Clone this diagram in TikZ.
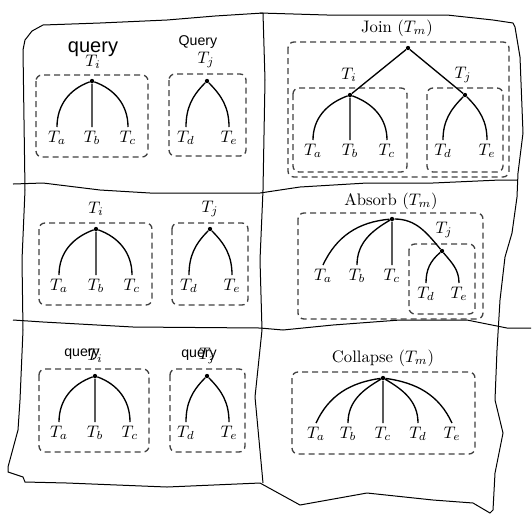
\documentclass[tikz,border=0pt]{standalone}
\usepackage{amsmath}
\usepackage{fontspec}
\setsansfont{Liberation Sans}
\usepackage{tikz}

\tikzset{
  foglia/.style={anchor=north, inner sep=2pt},
  nodo/.style={circle, fill=black, inner sep=0pt, minimum size=2.6pt},
  ramo/.style={line width=0.8pt},
  gruppo/.style={draw=black!75, line width=0.8pt, dash pattern=on 3.6pt off 2.4pt, rounded corners=3.6pt},
  cornice/.style={line width=0.6pt},
  nota/.style={font=\sffamily\fontsize{8.5}{10}\selectfont, inner sep=0pt},
  scarabocchio/.style={font=\sffamily\fontsize{12}{12}\selectfont, inner sep=0pt},
}

\begin{document}
\begin{tikzpicture}[x=0.6pt, y=0.6pt]
\useasboundingbox (0,0) rectangle (532,-525);

% Cornice disegnata a mano
\draw[cornice] (263,-13) -- (215,-16) -- (167,-20) -- (100,-23) -- (43,-25) -- (32,-31) -- (25,-40) -- (23,-50) -- (24,-120) -- (25,-190) -- (22,-260) -- (23,-330) -- (20,-400) -- (18,-430) -- (8,-467) -- (8,-472) -- (23,-477) -- (25,-482) -- (67,-483) -- (167,-487) -- (260,-483);
\draw[cornice] (260,-13) -- (327,-15) -- (393,-15) -- (447,-15) -- (493,-20) -- (513,-23) -- (515,-27) -- (520,-57) -- (523,-133) -- (518,-173) -- (517,-197) -- (512,-233) -- (505,-257) -- (500,-300) -- (497,-350) -- (495,-400) -- (503,-433) -- (495,-473) -- (493,-510) -- (490,-513) -- (473,-503) -- (433,-500) -- (367,-493) -- (300,-505) -- (260,-483);
\draw[cornice] (263,-13) -- (265,-80) -- (263,-190) -- (260,-260) -- (262,-330) -- (255,-397) -- (263,-483);
\draw[cornice] (13,-184) -- (43,-183) -- (100,-190) -- (150,-193) -- (260,-193) -- (300,-187) -- (367,-183) -- (433,-183) -- (500,-180) -- (517,-180);
\draw[cornice] (13,-320) -- (43,-322) -- (133,-327) -- (260,-328) -- (283,-330) -- (333,-325) -- (400,-320) -- (467,-320) -- (507,-328) -- (531,-328);

% In alto a sinistra
\node[scarabocchio] (sqa) at (93,-49) {query};
\node (lia) at (93,-62) {$T_i$};
\node[nota] (qja) at (198,-42) {Query};
\node (lja) at (206,-60) {$T_j$};
\draw[gruppo] (36,-75) rectangle (148,-157);
\draw[gruppo] (169,-74) rectangle (246,-156);
\node[nodo] (ria) at (92,-81) {};
\node[nodo] (rja) at (207,-81) {};
\node[foglia] (aa) at (57,-127) {$T_a$};
\node[foglia] (ba) at (92,-127) {$T_b$};
\node[foglia] (ca) at (128,-127) {$T_c$};
\node[foglia] (da) at (186,-127) {$T_d$};
\node[foglia] (ea) at (229,-127) {$T_e$};
\draw[ramo] (ria) to[out=200, in=90] (aa.north) (ria) -- (ba.north) (ria) to[out=-20, in=90] (ca.north);
\draw[ramo] (rja) to[out=225, in=90] (da.north) (rja) to[out=-45, in=90] (ea.north);

% Join
\node (tjoin) at (397,-28) {Join ($T_m$)};
\draw[gruppo] (288,-42) rectangle (509,-177);
\draw[gruppo] (293,-88) rectangle (407,-172);
\draw[gruppo] (427,-88) rectangle (503,-172);
\node[nodo] (rmb) at (408,-48) {};
\node[nodo] (rib) at (350,-95) {};
\node[nodo] (rjb) at (465,-95) {};
\node (lib) at (349,-75) {$T_i$};
\node (ljb) at (463,-75) {$T_j$};
\node[foglia] (ab) at (313,-140) {$T_a$};
\node[foglia] (bb) at (350,-140) {$T_b$};
\node[foglia] (cb) at (387,-140) {$T_c$};
\node[foglia] (db) at (443,-140) {$T_d$};
\node[foglia] (eb) at (487,-140) {$T_e$};
\draw[ramo] (rmb) -- (rib) (rmb) -- (rjb);
\draw[ramo] (rib) to[out=200, in=90] (ab.north) (rib) -- (bb.north) (rib) to[out=-20, in=90] (cb.north);
\draw[ramo] (rjb) to[out=225, in=90] (db.north) (rjb) to[out=-45, in=90] (eb.north);

% Al centro a sinistra
\node (lic) at (96,-209) {$T_i$};
\node (ljc) at (210,-209) {$T_j$};
\draw[gruppo] (39,-223) rectangle (152,-305);
\draw[gruppo] (172,-223) rectangle (248,-305);
\node[nodo] (ric) at (96,-229) {};
\node[nodo] (rjc) at (210,-229) {};
\node[foglia] (ac) at (59,-275) {$T_a$};
\node[foglia] (bc) at (96,-275) {$T_b$};
\node[foglia] (cc) at (132,-275) {$T_c$};
\node[foglia] (dc) at (189,-275) {$T_d$};
\node[foglia] (ec) at (232,-275) {$T_e$};
\draw[ramo] (ric) to[out=200, in=90] (ac.north) (ric) -- (bc.north) (ric) to[out=-20, in=90] (cc.north);
\draw[ramo] (rjc) to[out=225, in=90] (dc.north) (rjc) to[out=-45, in=90] (ec.north);

% Absorb
\node (tabs) at (391,-201) {Absorb ($T_m$)};
\draw[gruppo] (298,-213) rectangle (483,-319);
\draw[gruppo] (409,-244) rectangle (475,-314);
\node[nodo] (rmd) at (392,-219) {};
\node[nodo] (rjd) at (442,-251) {};
\node (ljd) at (444,-230) {$T_j$};
\node[foglia] (ad) at (323,-265) {$T_a$};
\node[foglia] (bd) at (357,-265) {$T_b$};
\node[foglia] (cd) at (392,-265) {$T_c$};
\node[foglia] (dd) at (426,-283) {$T_d$};
\node[foglia] (ed) at (459,-283) {$T_e$};
\draw[ramo] (rmd) to[out=185, in=65] (ad.north) (rmd) to[out=210, in=90] (bd.north) (rmd) -- (cd.north);
\draw[ramo] (rmd) to[out=0, in=130] (rjd);
\draw[ramo] (rjd) to[out=220, in=90] (dd.north) (rjd) to[out=-50, in=90] (ed.north);

% In basso a sinistra
\node (lie) at (95,-356) {$T_i$};
\node[nota] (qie) at (82,-354) {query};
\node (lje) at (207,-356) {$T_j$};
\node[nota] (qje) at (199,-355) {query};
\draw[gruppo] (39,-369) rectangle (149,-452);
\draw[gruppo] (170,-369) rectangle (245,-452);
\node[nodo] (rie) at (95,-376) {};
\node[nodo] (rje) at (207,-376) {};
\node[foglia] (ae) at (59,-422) {$T_a$};
\node[foglia] (be) at (95,-422) {$T_b$};
\node[foglia] (ce) at (130,-422) {$T_c$};
\node[foglia] (de) at (186,-422) {$T_d$};
\node[foglia] (ee) at (229,-422) {$T_e$};
\draw[ramo] (rie) to[out=200, in=90] (ae.north) (rie) -- (be.north) (rie) to[out=-20, in=90] (ce.north);
\draw[ramo] (rje) to[out=225, in=90] (de.north) (rje) to[out=-45, in=90] (ee.north);

% Collapse
\node (tcol) at (383,-358) {Collapse ($T_m$)};
\draw[gruppo] (292,-372) rectangle (475,-454);
\node[nodo] (rmf) at (383,-378) {};
\node[foglia] (af) at (316,-423) {$T_a$};
\node[foglia] (bf) at (348,-423) {$T_b$};
\node[foglia] (cf) at (383,-423) {$T_c$};
\node[foglia] (df) at (418,-423) {$T_d$};
\node[foglia] (ef) at (452,-423) {$T_e$};
\draw[ramo] (rmf) to[out=188, in=65] (af.north) (rmf) to[out=210, in=90] (bf.north) (rmf) -- (cf.north) (rmf) to[out=-30, in=90] (df.north) (rmf) to[out=-8, in=115] (ef.north);
\end{tikzpicture}
\end{document}
